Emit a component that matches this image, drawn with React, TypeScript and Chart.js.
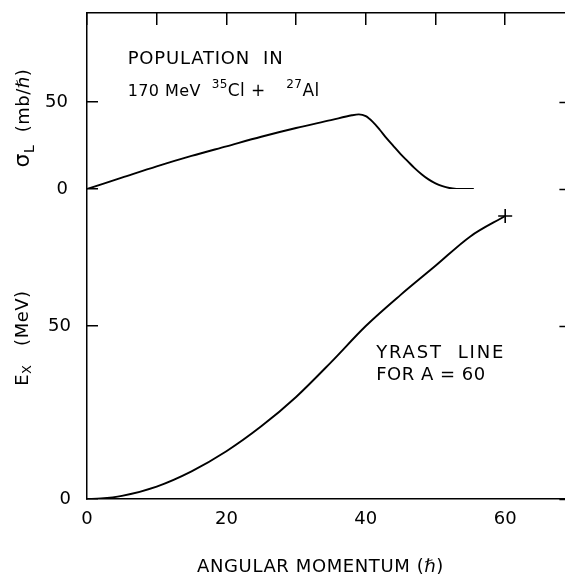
import React, { useEffect, useRef } from 'react';
import { Chart, registerables } from 'chart.js';

Chart.register(...registerables);

const FONT = "'DejaVu Sans', 'Liberation Sans', sans-serif";

// Population cross-section sigma_L vs angular momentum L
const L_POP = [0, 5, 10, 15, 20, 25, 30, 35, 38, 39, 40, 41, 42, 43, 44, 45, 46, 47, 48, 49, 50, 51, 52, 53, 54, 55.5];
const SIGMA_L = [0, 6.5, 13, 19, 24.5, 30, 35, 39.5, 42.3, 42.8, 41.8, 38.5, 34, 29, 24.5, 20, 16, 12, 8.5, 5.5, 3.2, 1.6, 0.6, 0.1, 0, 0];

// Yrast line E_x vs L for A = 60
const L_YRAST = [0, 2, 5, 10, 15, 20, 25, 30, 35, 40, 45, 50, 55, 60];
const E_YRAST = [0, 0.15, 0.9, 3.6, 8, 13.8, 21, 29.5, 39.5, 50, 59, 67.4, 75.9, 81.8];

const X_TICKS_BOTTOM = [0, 20, 40, 60];
const X_TICKS_TOP = [0, 10, 20, 30, 40, 50, 60];
const SIGMA_TICKS = [0, 50];
const E_TICKS = [0, 50];
const X_MAX = 69.5;
const SIGMA_MAX = 101;
const E_MAX = 89.6;

const X_TITLE = 'ANGULAR MOMENTUM (ℏ)';

type Seg = { t: string; size: number; dy?: number };

function drawRich(ctx: CanvasRenderingContext2D, segs: Seg[], x: number, y: number, rot: number, align: 'left' | 'center', ls: number) {
  ctx.save();
  ctx.translate(x, y);
  if (rot) ctx.rotate(rot);
  ctx.fillStyle = '#000';
  ctx.textBaseline = 'alphabetic';
  ctx.textAlign = 'left';
  (ctx as any).letterSpacing = ls + 'px';
  const widths = segs.map((s) => {
    ctx.font = `${s.size}px ${FONT}`;
    return ctx.measureText(s.t).width;
  });
  const total = widths.reduce((a, b) => a + b, 0);
  let cx = align === 'center' ? -total / 2 : 0;
  segs.forEach((s, i) => {
    ctx.font = `${s.size}px ${FONT}`;
    ctx.fillText(s.t, cx, s.dy || 0);
    cx += widths[i];
  });
  ctx.restore();
}

const annotPlugin = {
  id: 'annot',
  afterDraw(chart: any) {
    const ctx: CanvasRenderingContext2D = chart.ctx;
    const sx = chart.scales.x;
    const sy = chart.scales.y;
    const sy2 = chart.scales.y2;
    // axis titles
    drawRich(ctx, [
      { t: 'σ', size: 22 },
      { t: 'L', size: 14, dy: 5 },
      { t: '  (mb/ℏ)', size: 18 },
    ], 29, sy2.getPixelForValue(40.7), -Math.PI / 2, 'center', 0.5);
    drawRich(ctx, [
      { t: 'E', size: 18 },
      { t: 'X', size: 13, dy: 3 },
      { t: '   (MeV)', size: 18 },
    ], 28, sy.getPixelForValue(46.5), -Math.PI / 2, 'center', 0.5);
    drawRich(ctx, [{ t: X_TITLE, size: 18 }],
      sx.getPixelForValue(33.5), 572, 0, 'center', 0.6);
    // top panel annotation
    drawRich(ctx, [{ t: 'POPULATION  IN', size: 18 }],
      sx.getPixelForValue(5.84), sy2.getPixelForValue(71.6), 0, 'left', 0.8);
    drawRich(ctx, [
      { t: '170 MeV  ', size: 16 },
      { t: '35', size: 12, dy: -8 },
      { t: 'Cl +', size: 17 },
    ], sx.getPixelForValue(5.84), sy2.getPixelForValue(53.3), 0, 'left', 0.4);
    drawRich(ctx, [
      { t: '27', size: 12, dy: -8 },
      { t: 'Al', size: 17 },
    ], sx.getPixelForValue(28.6), sy2.getPixelForValue(53.3), 0, 'left', 0.4);
    // bottom panel annotation
    drawRich(ctx, [{ t: 'YRAST  LINE', size: 18 }],
      sx.getPixelForValue(41.5), sy.getPixelForValue(40.7), 0, 'left', 1.8);
    drawRich(ctx, [{ t: 'FOR A = 60', size: 18 }],
      sx.getPixelForValue(41.5), sy.getPixelForValue(34.4), 0, 'left', 0.5);
    // right-edge inward ticks
    ctx.save();
    ctx.strokeStyle = '#000';
    ctx.lineWidth = 1.5;
    const r = chart.chartArea.right;
    const ticksR: [any, number][] = [[sy2, 0], [sy2, 50], [sy, 50], [sy, 0]];
    ticksR.forEach(([s, v]) => {
      const py = Math.round(s.getPixelForValue(v)) + 0.5;
      ctx.beginPath();
      ctx.moveTo(r - 12, py);
      ctx.lineTo(r, py);
      ctx.stroke();
    });
    ctx.restore();
  },
};

const tickFont = { family: FONT, size: 18 };

const noPad = (s: any) => {
  s.paddingTop = 0;
  s.paddingBottom = 0;
  s.paddingLeft = 0;
  s.paddingRight = 0;
};

export default function App() {
  const ref = useRef<HTMLCanvasElement>(null);
  useEffect(() => {
    if (!ref.current) return;
    const chart = new Chart(ref.current, {
      type: 'line',
      data: {
        datasets: [
          {
            label: 'sigma',
            data: L_POP.map((l, i) => ({ x: l, y: SIGMA_L[i] })),
            xAxisID: 'x',
            yAxisID: 'y2',
            borderColor: '#000',
            borderWidth: 1.9,
            pointRadius: 0,
            fill: false,
            cubicInterpolationMode: 'monotone',
          },
          {
            label: 'yrast',
            data: L_YRAST.map((l, i) => ({ x: l, y: E_YRAST[i] })),
            xAxisID: 'x',
            yAxisID: 'y',
            borderColor: '#000',
            backgroundColor: '#000',
            borderWidth: 1.9,
            pointStyle: 'cross',
            pointRadius: (c: any) => (c.dataIndex === L_YRAST.length - 1 ? 7 : 0),
            pointBorderWidth: 1.6,
            fill: false,
            cubicInterpolationMode: 'monotone',
          },
        ],
      },
      options: {
        responsive: false,
        animation: false,
        devicePixelRatio: 1,
        layout: { padding: { left: 0, right: 5, top: 0, bottom: 0 } },
        plugins: { legend: { display: false }, tooltip: { enabled: false } },
        scales: {
          x: {
            type: 'linear',
            position: 'bottom',
            min: 0,
            max: X_MAX,
            afterBuildTicks: (s: any) => { s.ticks = X_TICKS_BOTTOM.map((v) => ({ value: v })); },
            afterFit: (s: any) => { s.height = 76; noPad(s); },
            grid: { drawOnChartArea: false, drawTicks: false },
            border: { display: true, color: '#000', width: 1.5 },
            ticks: { color: '#000', font: tickFont, padding: 10, maxRotation: 0, autoSkip: false },
          },
          x2: {
            type: 'linear',
            position: 'top',
            min: 0,
            max: X_MAX,
            afterBuildTicks: (s: any) => { s.ticks = X_TICKS_TOP.map((v) => ({ value: v })); },
            afterFit: (s: any) => { s.height = 13; noPad(s); },
            grid: { drawOnChartArea: false, drawTicks: true, tickLength: -12, color: '#000', lineWidth: 1.5 },
            border: { display: true, color: '#000', width: 1.5 },
            ticks: { display: false },
          },
          y: {
            type: 'linear',
            position: 'left',
            stack: 'v',
            stackWeight: 310,
            min: 0,
            max: E_MAX,
            afterBuildTicks: (s: any) => { s.ticks = E_TICKS.map((v) => ({ value: v })); },
            afterFit: (s: any) => { s.width = 87; noPad(s); },
            grid: { drawOnChartArea: false, drawTicks: true, tickLength: -11, color: '#000', lineWidth: 1.5 },
            border: { display: true, color: '#000', width: 1.5 },
            ticks: { color: '#000', font: tickFont, padding: 27 },
          },
          y2: {
            type: 'linear',
            position: 'left',
            stack: 'v',
            stackWeight: 176,
            min: 0,
            max: SIGMA_MAX,
            afterBuildTicks: (s: any) => { s.ticks = SIGMA_TICKS.map((v) => ({ value: v })); },
            afterFit: (s: any) => { s.width = 87; noPad(s); },
            grid: { drawOnChartArea: false, drawTicks: true, tickLength: -11, color: '#000', lineWidth: 1.5 },
            border: { display: true, color: '#000', width: 1.5 },
            ticks: { color: '#000', font: tickFont, padding: 30 },
          },
        },
      } as any,
      plugins: [annotPlugin],
    });
    return () => chart.destroy();
  }, []);
  return (
    <div style={{ position: 'fixed', left: 0, top: 0, width: 565, height: 575, overflow: 'hidden', background: '#fff' }}>
      <canvas ref={ref} width={580} height={575} style={{ display: 'block', width: 580, height: 575 }} />
    </div>
  );
}
